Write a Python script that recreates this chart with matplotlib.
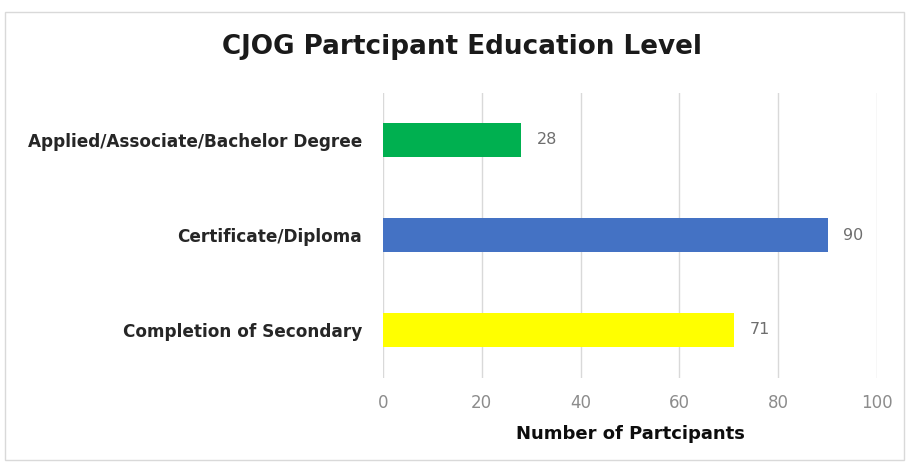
import matplotlib
matplotlib.use("Agg")
import matplotlib.pyplot as plt
from matplotlib.patches import Rectangle

categories = ["Completion of Secondary", "Certificate/Diploma", "Applied/Associate/Bachelor Degree"]
values = [71, 90, 28]
colors = ["#FFFF00", "#4472C4", "#00B050"]
xticks = [0, 20, 40, 60, 80, 100]

plt.rcParams['font.family'] = ['DejaVu Sans']

fig = plt.figure(figsize=(9.09, 4.66), dpi=100)
ax = fig.add_axes([383/909, 1-377.5/466, (877-383)/909, (377.5-92.5)/466])

bars = ax.barh(range(len(categories)), values, height=0.36, color=colors, zorder=3)
for i, v in enumerate(values):
    ax.text(v + 3.2, i, str(v), va='center', ha='left', fontsize=11.5, color='#6e6e6e')

ax.set_xlim(0, 100)
ax.set_ylim(-0.5, 2.5)
ax.set_xticks(xticks)
ax.set_xticklabels([str(t) for t in xticks], fontsize=12, color='#8c8c8c')
ax.set_yticks(range(len(categories)))
ax.set_yticklabels(categories, fontsize=12.2, fontweight='bold', color='#262626')
ax.tick_params(axis='both', length=0)
ax.tick_params(axis='y', pad=15)
ax.tick_params(axis='x', pad=12)
ax.grid(axis='x', color='#D9D9D9', linewidth=1, zorder=0)
for s in ax.spines.values():
    s.set_visible(False)

ax.set_xlabel("Number of Partcipants", fontsize=13, fontweight='bold', color='#0d0d0d', labelpad=9)
fig.text(462/909, 1-47/466, "CJOG Partcipant Education Level", ha='center', va='center',
         fontsize=18.9, fontweight='bold', color='#1a1a1a')

fig.patches.append(Rectangle((5/909, 1-460/466), 899/909, 448/466, transform=fig.transFigure,
                             fill=False, edgecolor='#D9D9D9', linewidth=1))

fig.savefig("out.png", dpi=100)
